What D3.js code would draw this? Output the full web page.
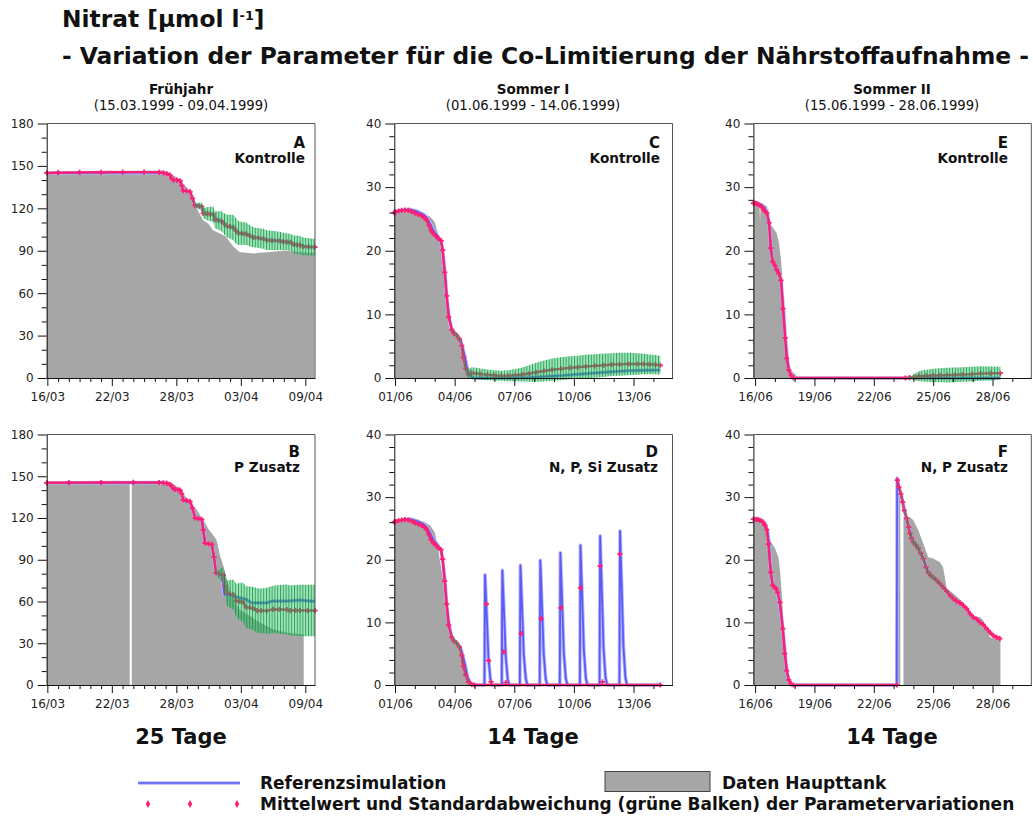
<!DOCTYPE html>
<html>
<head>
<meta charset="utf-8">
<script src="https://cdn.jsdelivr.net/npm/d3@7"></script>
<style>
  body { margin: 0; background: #fff; }
  text { font-family: "DejaVu Sans", Verdana, sans-serif; }
</style>
</head>
<body>
<svg id="chart" width="1033" height="819"></svg>
<script>
// ---------------------------------------------------------------
// Tick labels and text
// ---------------------------------------------------------------
const ticksSpring  = ["16/03", "22/03", "28/03", "03/04", "09/04"];
const ticksSummer1 = ["01/06", "04/06", "07/06", "10/06", "13/06"];
const ticksSummer2 = ["16/06", "19/06", "22/06", "25/06", "28/06"];

const seasons   = ["Frühjahr", "Sommer I", "Sommer II"];
const periods   = ["(15.03.1999 - 09.04.1999)", "(01.06.1999 - 14.06.1999)", "(15.06.1999 - 28.06.1999)"];
const durations = ["25 Tage", "14 Tage", "14 Tage"];

// ---------------------------------------------------------------
// Series: [day since first labelled date, value] ;
// mean series: [day, mean, standard deviation]
// ---------------------------------------------------------------

// A – Frühjahr, Kontrolle
const dataA = [[-0.06,145],[2,145.5],[4,146],[6,146.5],[7,146.3],[9,146],[10.8,145.8],[11.4,145],[12.0,142],[12.5,138.5],[12.96,135],[13.4,128],[13.7,123],[14.1,117],[14.5,111.5],[15.0,109],[15.4,104.5],[16.1,102],[16.6,100],[17.0,96],[17.3,93],[17.9,89],[18.5,88.5],[19.2,88],[19.7,88.5],[20.4,89],[21.2,89.5],[22.0,90],[23.0,89.5],[23.5,89],[24.2,88.5],[24.85,88.5]];
const refA  = [[-0.06,145],[10.6,145.4],[11.1,144.6],[11.45,143],[11.6,140.5],[12.4,139.5],[12.55,134],[12.7,132.5],[13.3,131.5],[13.5,127],[13.7,122],[14.4,121],[14.55,117],[15.5,115.5],[15.65,112.5],[16.3,110.5],[16.7,107.5],[17.4,106],[17.8,102.5],[18.6,101.5],[19.1,99.5],[20.1,98.5],[20.4,97.5],[21.7,97],[21.95,96.3],[22.7,95.8],[22.9,94.5],[23.6,94],[23.85,93],[24.9,92.5]];
const meanA = [[-0.06,145,0],[1,145.2,0],[3,145.4,0],[5,145.5,0],[7,145.6,0],[9,145.6,0],[10.4,145.5,0],[10.8,145.1,0],[11.1,144.6,0],[11.4,143.5,0],[11.57,141,0],[11.75,140,0],[12.05,140,0],[12.34,139.5,0],[12.5,136,0],[12.65,132.5,0],[12.95,132.3,0],[13.27,131.8,0],[13.5,127,0.5],[13.74,122,1],[14.05,121.8,2],[14.36,121.3,3],[14.5,116.5,3.5],[14.8,116.2,4.5],[15.1,116,5],[15.44,115.8,5.5],[15.6,112,6],[15.9,111.5,6.5],[16.2,111,7],[16.45,109,7.5],[16.7,107.5,8],[17.0,107,8.5],[17.3,106.5,9],[17.55,104,9],[17.77,102.5,8.5],[18.1,102.3,8],[18.5,102,8],[18.85,100.5,7.5],[19.2,99.5,7],[19.65,99,7],[20.1,98.5,7],[20.4,97.5,7],[20.9,97.3,6.8],[21.6,97,6.5],[21.95,96.5,6.2],[22.3,96.2,6],[22.6,96,6],[22.9,94.5,6.3],[23.2,94.2,6.5],[23.5,94,6.5],[23.8,93,6.3],[24.3,92.8,6],[24.9,92.5,6]];

// B – Frühjahr, P Zusatz (null = gap in the tank record)
const dataB = [[-0.06,145.5],[2,145.8],[4,146],[5.5,146.5],[6.5,146.8],[7.66,146],[7.68,null],[7.84,null],[7.86,146],[9,146],[10,146],[11.1,146.3],[11.4,146],[12.0,143],[12.65,137.5],[13.3,131],[13.9,126],[14.2,122],[14.5,119],[15.0,112],[15.4,108],[15.75,104],[16.06,93],[16.4,85],[16.7,76],[17.0,68],[17.3,62],[17.9,54],[18.85,49.5],[19.8,44.7],[21.0,40],[22.3,37.6],[23.7,36.4],[23.85,36.4]];
const refB  = [[-0.06,145.3],[10.6,145.5],[11.1,145],[11.45,143.5],[11.6,141],[11.9,140.2],[12.4,139.8],[12.55,135],[12.7,132.5],[13.3,131.5],[13.5,127],[13.74,120],[14.4,118.8],[14.55,111],[14.67,102],[15.35,100.5],[15.5,92],[15.68,80],[16.3,78.5],[16.45,65],[17.3,64],[18.2,62],[18.5,61.5],[19.0,59],[20.4,59],[20.9,60.3],[22.3,60.3],[23.5,61],[24.9,60]];
const meanB = [[-0.06,145.3,0],[2,145.4,0],[5,145.5,0],[8,145.6,0],[10.4,145.5,0],[10.8,145.2,0],[11.1,145,0],[11.4,144,0],[11.57,143,0],[11.75,141,0],[11.9,140.5,0],[12.15,140.2,0],[12.34,140,0],[12.5,137.5,0],[12.65,133,0],[12.95,132.5,0],[13.27,132,0],[13.5,127,0],[13.74,120,0],[14.05,119.6,0],[14.36,119,0],[14.5,111.5,0],[14.67,102,0],[15.0,101.5,0],[15.3,101,0],[15.5,92,0.5],[15.7,80.5,1],[16.0,79.6,3.5],[16.37,79,6],[16.53,71,8],[16.7,66,9],[17.0,65.5,10],[17.3,65,10.8],[17.6,60.5,12],[17.9,60,13.5],[18.2,59.5,14],[18.5,56,15],[18.85,55.5,15.3],[19.16,55,15.5],[19.5,53.5,16],[19.9,53.4,16],[20.4,53.3,16.5],[21.0,54.3,17],[21.6,54.3,17.5],[22.3,54.2,18],[22.6,53.5,18],[23.1,53.6,18.3],[23.5,53.6,18.5],[24.2,53.5,18.5],[24.9,53.5,18.5]];

// C – Sommer I, Kontrolle
const dataC = [[-0.035,26],[0.4,26.4],[0.75,26.5],[1.1,26.1],[1.43,25.8],[1.76,25.4],[2.0,24.5],[2.15,22.8],[2.3,21.6],[2.4,20.8],[2.5,17],[2.6,11],[2.72,7.8],[2.9,7.2],[3.1,6.5],[3.25,5.5],[3.4,3.5],[3.5,1.8],[3.6,0.7],[3.75,0.1],[3.9,0],[13.35,0]];
const refC  = [[-0.035,26],[0.4,26.4],[0.75,26.5],[1.1,26.2],[1.43,25.7],[1.6,25.2],[1.76,24.3],[1.93,23.2],[2.18,22.2],[2.32,21.4],[2.43,19],[2.52,16.4],[2.6,12.7],[2.72,9.6],[2.85,7.7],[3.1,6.7],[3.3,5.9],[3.4,4.8],[3.52,3.3],[3.64,1.4],[3.77,0.4],[3.94,0],[5.5,0],[6.8,0.1],[7.7,0.25],[8.5,0.4],[9.3,0.6],[10.15,0.8],[11.0,1.0],[11.8,1.15],[12.6,1.22],[13.35,1.25]];
const meanC = [[-0.035,26,0],[0.03,26.1,0],[0.18,26.25,0],[0.34,26.35,0],[0.5,26.4,0],[0.67,26.35,0],[0.84,26.15,0],[1.0,25.9,0],[1.17,25.7,0],[1.34,25.5,0],[1.47,25.2,0],[1.59,24.8,0],[1.71,24.0,0],[1.81,23.2,0],[1.93,22.7,0],[2.06,22.3,0],[2.18,21.9,0],[2.32,21.6,0],[2.40,20.1,0],[2.50,16.6,0],[2.60,12.9,0],[2.70,9.55,0],[2.85,7.6,0.1],[2.97,7.0,0.2],[3.10,6.7,0.3],[3.24,6.1,0.3],[3.36,5.1,0.4],[3.44,3.25,0.5],[3.56,1.5,0.7],[3.69,0.63,0.8],[3.86,0.8,0.9],[4.1,0.7,0.9],[4.3,0.6,0.9],[4.65,0.5,0.85],[5.0,0.4,0.8],[5.35,0.35,0.8],[5.7,0.35,0.85],[6.05,0.45,0.95],[6.4,0.55,1.1],[6.75,0.7,1.3],[7.1,0.9,1.5],[7.5,1.1,1.65],[7.9,1.3,1.75],[8.35,1.45,1.8],[8.8,1.6,1.8],[9.2,1.7,1.8],[9.6,1.8,1.85],[10.05,1.9,1.85],[10.5,2.0,1.85],[10.9,2.1,1.8],[11.3,2.15,1.8],[11.75,2.2,1.75],[12.2,2.2,1.7],[12.5,2.2,1.6],[12.8,2.15,1.55],[13.1,2.1,1.5],[13.35,2.0,1.45]];

// D – Sommer I, N, P, Si Zusatz (daily nutrient pulses)
const dataD = [[-0.035,26],[0.75,26.45],[1.43,26.1],[1.76,25.5],[2.0,24.4],[2.13,22.6],[2.26,19.9],[2.43,16.7],[2.6,10.8],[2.77,7.6],[3.0,6.6],[3.2,6.3],[3.32,5.0],[3.44,2.8],[3.6,1.0],[3.77,0.2],[3.9,0],[13.35,0]];
const refD  = [[-0.035,26],[0.4,26.4],[0.75,26.5],[1.1,26.2],[1.43,25.7],[1.6,25.2],[1.76,24.3],[1.93,23.2],[2.18,22.2],[2.32,21.4],[2.43,19],[2.52,16.4],[2.6,12.7],[2.72,9.6],[2.85,7.7],[3.1,6.7],[3.3,5.9],[3.4,4.8],[3.52,3.3],[3.64,1.4],[3.77,0.4],[3.94,0],
  [4.50,0],[4.53,17.6],[4.60,12.3],[4.70,4.4],[4.80,0.9],[4.88,0],
  [5.37,0],[5.40,18.3],[5.47,12.8],[5.57,4.6],[5.67,0.9],[5.75,0],
  [6.28,0],[6.31,19.1],[6.38,13.4],[6.48,4.8],[6.58,1.0],[6.66,0],
  [7.28,0],[7.31,19.9],[7.38,13.9],[7.48,5.0],[7.58,1.0],[7.66,0],
  [8.29,0],[8.32,21.1],[8.39,14.8],[8.49,5.3],[8.59,1.1],[8.67,0],
  [9.30,0],[9.33,22.3],[9.40,15.6],[9.50,5.6],[9.60,1.1],[9.68,0],
  [10.29,0],[10.32,23.8],[10.39,16.7],[10.49,6.0],[10.59,1.2],[10.67,0],
  [11.29,0],[11.32,24.6],[11.39,17.2],[11.49,6.2],[11.59,1.2],[11.67,0],[13.35,0]];
const meanD = [[-0.035,26,0],[0.03,26.1,0],[0.18,26.25,0],[0.34,26.35,0],[0.5,26.4,0],[0.67,26.35,0],[0.84,26.15,0],[1.0,25.9,0],[1.17,25.7,0],[1.34,25.5,0],[1.47,25.2,0],[1.59,24.8,0],[1.71,24.0,0],[1.81,23.2,0],[1.93,22.7,0],[2.06,22.3,0],[2.18,21.9,0],[2.32,21.6,0],[2.40,20.1,0],[2.50,16.6,0],[2.60,12.9,0],[2.70,9.55,0],[2.85,7.6,0.2],[2.97,7.0,0.3],[3.10,6.7,0.35],[3.24,6.1,0.35],[3.36,4.7,0.35],[3.44,3.0,0.3],[3.56,1.6,0.2],[3.69,0.5,0.1],[3.86,0.1,0],[4.0,0,0],[13.35,0,0]];
const meanDPulses = [[4.60,12.9],[4.71,3.9],[4.83,0.5],[5.47,5.3],[5.57,0.4],[6.34,8.2],[7.35,10.6],[8.34,12.3],[9.33,15.5],[10.32,19.0],[10.44,0.5],[11.31,20.9]];

// E – Sommer II, Kontrolle
const dataE = [[-0.085,27.5],[0.1,27.4],[0.22,27.3],[0.25,24.6],[0.28,27.3],[0.5,27.2],[0.6,27],[0.62,25.5],[0.64,27],[0.67,26.4],[0.76,24.3],[0.93,23.5],[1.09,22.8],[1.21,21.2],[1.31,18.6],[1.4,14.9],[1.46,10.8],[1.57,5.5],[1.68,1.9],[1.85,1.1],[2.02,0.6],[2.19,0],[12.4,0]];
const refE  = [[-0.085,27.5],[0.15,27.4],[0.34,27.2],[0.5,26.7],[0.62,25.8],[0.71,24.3],[0.79,20.7],[0.89,18.3],[1.01,17.5],[1.13,17.0],[1.21,16.5],[1.31,15.4],[1.43,10.9],[1.53,6.3],[1.62,3.1],[1.72,1.25],[1.83,0.4],[1.95,0],[12.4,0]];
const meanE = [[-0.085,27.5,0],[0,27.5,0],[0.08,27.4,0],[0.17,27.3,0],[0.25,27.1,0],[0.34,26.85,0],[0.42,26.5,0],[0.5,26.2,0],[0.59,25.9,0],[0.71,24.4,0],[0.79,20.4,0],[0.89,18.3,0],[1.01,17.65,0],[1.09,17.0,0],[1.2,16.4,0],[1.31,15.35,0],[1.41,10.9,0],[1.52,6.3,0],[1.6,3.1,0],[1.7,1.25,0],[1.82,0.4,0],[1.94,0,0],[7.6,0,0],[7.8,0.05,0.1],[8.05,0.15,0.5],[8.3,0.3,0.8],[8.65,0.35,0.95],[9.0,0.4,1.05],[9.35,0.42,1.1],[9.7,0.45,1.15],[10.1,0.5,1.15],[10.5,0.55,1.15],[10.95,0.6,1.15],[11.4,0.7,1.15],[11.9,0.72,1.1],[12.4,0.75,1.0]];

// F – Sommer II, N, P Zusatz (single addition on 23/06)
const dataF = [[-0.085,26.5],[0.42,26.4],[0.57,25.8],[0.6,21],[0.63,24.5],[0.76,23.1],[1.01,21.8],[1.18,20.4],[1.26,18.3],[1.35,14.5],[1.43,10.3],[1.57,5.0],[1.68,1.8],[1.85,0.4],[2.02,0],[7.18,0],[7.19,32.5],[7.34,30.5],[7.35,null],[7.48,null],[7.5,26.8],[7.83,26.8],[8.0,26.3],[8.25,24.7],[8.5,22.6],[8.75,20.4],[9.0,20.2],[9.34,19.6],[9.5,18.8],[9.6,17],[9.68,15.4],[10.02,14.6],[10.52,13.2],[10.86,11.7],[11.03,11.0],[11.36,10.8],[11.53,10.3],[11.7,9.2],[11.87,7.6],[12.21,7.4],[12.4,7.4]];
const refF  = [[-0.085,26.5],[0.34,26.3],[0.51,25.7],[0.62,24.7],[0.71,22.6],[0.79,18.0],[0.89,15.9],[1.01,15.4],[1.13,14.8],[1.23,13.2],[1.4,9.0],[1.52,5.0],[1.6,2.3],[1.7,0.8],[1.82,0.16],[1.94,0],[7.16,0],[7.18,33.0],[7.27,31.6],[7.37,30.5],[7.46,29.2],[7.54,27.9],[7.66,26.6],[7.76,25.2],[7.83,24.2],[7.91,23.4],[8.0,22.8],[8.13,22.3],[8.25,21.8],[8.37,21.0],[8.5,20.2],[8.64,18.8],[8.75,18.0],[8.87,17.5],[9.0,17.2],[9.18,16.7],[9.34,16.2],[9.51,15.6],[9.68,15.0],[9.85,14.3],[10.02,13.8],[10.18,13.4],[10.35,13.1],[10.52,12.7],[10.69,12.2],[10.86,11.4],[11.03,10.8],[11.2,10.5],[11.36,10.0],[11.53,9.65],[11.7,9.0],[11.87,8.4],[12.04,7.9],[12.21,7.6],[12.37,7.4]];
const meanF = [[-0.085,26.5,0],[0.05,26.45,0],[0.15,26.4,0],[0.25,26.3,0],[0.39,26.0,0],[0.5,25.5,0],[0.59,24.8,0],[0.67,22.5,0],[0.79,18.0,0],[0.89,15.9,0],[0.98,15.6,0],[1.06,15.4,0],[1.14,14.8,0],[1.26,13.2,0],[1.4,9.0,0],[1.5,5.0,0],[1.6,2.3,0],[1.7,0.8,0],[1.82,0.16,0],[1.94,0,0],[7.17,0,0],[7.18,null,0],
  [7.19,32.7,0],[7.27,31.6,0.1],[7.37,30.5,0.2],[7.46,29.2,0.3],[7.54,27.9,0.4],[7.66,26.6,0.4],[7.76,25.2,0.4],[7.83,24.2,0.4],[7.91,23.4,0.45],[8.0,22.8,0.45],[8.13,22.3,0.45],[8.25,21.8,0.45],[8.37,21.0,0.45],[8.5,20.2,0.45],[8.64,18.8,0.4],[8.75,18.0,0.4],[8.87,17.5,0.35],[9.0,17.2,0.3],[9.18,16.7,0.3],[9.34,16.2,0.25],[9.51,15.6,0.2],[9.68,15.0,0.15],[9.85,14.3,0.1],[10.02,13.8,0.05],[10.18,13.4,0],[10.35,13.1,0],[10.52,12.7,0],[10.69,12.2,0],[10.86,11.4,0],[11.03,10.8,0],[11.2,10.5,0],[11.36,10.0,0],[11.53,9.65,0],[11.7,9.0,0],[11.87,8.4,0],[12.04,7.9,0],[12.21,7.6,0],[12.37,7.4,0]];

// ---------------------------------------------------------------
// Layout
// ---------------------------------------------------------------
const W = 1033, H = 819;
const parseDay = d3.utcParse("%d/%m/%Y");
const cols = [
  { x0: 46.7,  x1: 315,    start: "16/03", dom: [-0.06, 24.9],  ticks: ticksSpring,  yMax: 180, yStep: 30, yMinor: 10, cx: 181 },
  { x0: 394.3, x1: 672.5,  start: "01/06", dom: [-0.035, 13.96], ticks: ticksSummer1, yMax: 40,  yStep: 10, yMinor: 2,  cx: 533 },
  { x0: 753.4, x1: 1031.3, start: "16/06", dom: [-0.085, 13.96], ticks: ticksSummer2, yMax: 40,  yStep: 10, yMinor: 2,  cx: 892 }
];
const rows = [
  { y0: 378, y1: 123.5, letterY: 148.3, nameY: 163.3 },
  { y0: 685, y1: 434.5, letterY: 456.8, nameY: 471.8 }
];
const panels = [
  { col: 0, row: 0, letter: "A", name: "Kontrolle",       lx: 305,  data: dataA, ref: refA, mean: meanA },
  { col: 1, row: 0, letter: "C", name: "Kontrolle",       lx: 660,  data: dataC, ref: refC, mean: meanC },
  { col: 2, row: 0, letter: "E", name: "Kontrolle",       lx: 1008, data: dataE, ref: refE, mean: meanE },
  { col: 0, row: 1, letter: "B", name: "P Zusatz",        lx: 300,  data: dataB, ref: refB, mean: meanB },
  { col: 1, row: 1, letter: "D", name: "N, P, Si Zusatz", lx: 658,  data: dataD, ref: refD, mean: meanD, pulses: meanDPulses },
  { col: 2, row: 1, letter: "F", name: "N, P Zusatz",     lx: 1008, data: dataF, ref: refF, mean: meanF }
];

const COLORS = {
  tank: "#a6a6a6",
  ref: "#5c5cf4",
  refHalo: "#b4b4ff",
  mean: "#ff1f72",
  sdDark: "#009a3c",
  sdLight: "#3cc06a",
  axis: "#111",
  frame: "#555",
  text: "#111"
};

const svg = d3.select("#chart");
svg.append("rect").attr("width", W).attr("height", H).attr("fill", "#fff");

// striped fill used for the standard-deviation bars
const defs = svg.append("defs");
const pat = defs.append("pattern").attr("id", "sdBars")
  .attr("patternUnits", "userSpaceOnUse").attr("width", 2.8).attr("height", 4);
pat.append("rect").attr("x", 0).attr("width", 1.1).attr("height", 4)
  .attr("fill", COLORS.sdDark).attr("fill-opacity", 0.85);
pat.append("rect").attr("x", 1.1).attr("width", 1.7).attr("height", 4)
  .attr("fill", COLORS.sdLight).attr("fill-opacity", 0.45);

const at = (start, d) => new Date(start.getTime() + d * 864e5);

function styleAxis(g, size) {
  g.attr("font-family", null).attr("font-size", null);
  g.selectAll("line,path").attr("stroke", COLORS.axis);
  g.selectAll("text").attr("font-size", size).attr("fill", "#222")
    .style("font-family", "'DejaVu Sans', Verdana, sans-serif");
}

function drawPanel(p) {
  const c = cols[p.col], r = rows[p.row];
  const start = parseDay(c.start + "/1999");
  const x = d3.scaleUtc().domain([at(start, c.dom[0]), at(start, c.dom[1])]).range([c.x0, c.x1]);
  const y = d3.scaleLinear().domain([0, c.yMax]).range([r.y0, r.y1]);
  const X = d => x(at(start, d[0]));
  const g = svg.append("g").attr("class", "panel-" + p.letter);

  // measured tank concentrations
  g.append("path").datum(p.data)
    .attr("d", d3.area().defined(d => d[1] != null).x(X).y0(y(0)).y1(d => y(d[1])))
    .attr("fill", COLORS.tank);

  // reference simulation
  const refLine = d3.line().x(X).y(d => y(d[1]));
  g.append("path").datum(p.ref).attr("d", refLine).attr("fill", "none")
    .attr("stroke", COLORS.refHalo).attr("stroke-width", 3.6).attr("stroke-linejoin", "round");
  g.append("path").datum(p.ref).attr("d", refLine).attr("fill", "none")
    .attr("stroke", COLORS.ref).attr("stroke-width", 1.8).attr("stroke-linejoin", "round");

  // mean of the parameter variations
  const meanPts = p.mean.filter(d => d[1] != null);
  g.append("path").datum(p.mean)
    .attr("d", d3.line().defined(d => d[1] != null).x(X).y(d => y(d[1])))
    .attr("fill", "none").attr("stroke", COLORS.mean).attr("stroke-width", 2.4);
  const marks = meanPts.concat(p.pulses || []);
  g.selectAll("path.mk").data(marks).join("path").attr("class", "mk")
    .attr("transform", d => `translate(${X(d)},${y(d[1])})`)
    .attr("d", d3.symbol(d3.symbolCross, 15))
    .attr("fill", COLORS.mean);

  // standard deviation bars (drawn over the mean)
  g.append("path").datum(meanPts)
    .attr("d", d3.area().x(X).y0(d => y(d[1] - d[2])).y1(d => y(d[1] + d[2])))
    .attr("fill", "url(#sdBars)");

  // frame (top and right)
  g.append("path").attr("d", `M${c.x0},${r.y1}H${c.x1}V${r.y0}`)
    .attr("fill", "none").attr("stroke", COLORS.frame).attr("stroke-width", 1);

  // y axis
  const yMajor = d3.range(0, c.yMax + 0.001, c.yStep);
  const yMinor = d3.range(0, c.yMax + 0.001, c.yMinor).filter(v => v % c.yStep !== 0);
  g.append("g").attr("transform", `translate(${c.x0},0)`)
    .call(d3.axisLeft(y).tickValues(yMinor).tickSize(5).tickFormat(""))
    .call(s => s.select(".domain").remove())
    .call(s => styleAxis(s, 12));
  g.append("g").attr("transform", `translate(${c.x0},0)`)
    .call(d3.axisLeft(y).tickValues(yMajor).tickSize(9).tickPadding(4).tickSizeOuter(0))
    .call(s => styleAxis(s, 12));

  // x axis
  const xMajor = c.ticks.map(t => parseDay(t + "/1999"));
  const [d0, d1] = x.domain();
  const xMinor = d3.utcDay.range(d3.utcDay.ceil(d0), d1)
    .filter(d => !xMajor.some(m => +m === +d));
  g.append("g").attr("transform", `translate(0,${r.y0})`)
    .call(d3.axisBottom(x).tickValues(xMinor).tickSize(4).tickFormat(""))
    .call(s => s.select(".domain").remove())
    .call(s => styleAxis(s, 12));
  g.append("g").attr("transform", `translate(0,${r.y0})`)
    .call(d3.axisBottom(x).tickValues(xMajor).tickSize(8).tickPadding(6).tickSizeOuter(0)
      .tickFormat(d3.utcFormat("%d/%m")))
    .call(s => styleAxis(s, 12));

  // panel caption
  g.append("text").attr("x", p.lx).attr("y", r.letterY).attr("text-anchor", "end")
    .attr("font-weight", "bold").attr("font-size", 15).attr("fill", COLORS.text).text(p.letter);
  g.append("text").attr("x", p.lx).attr("y", r.nameY).attr("text-anchor", "end")
    .attr("font-weight", "bold").attr("font-size", 13.6).attr("fill", COLORS.text).text(p.name);
}

panels.forEach(drawPanel);

// ---------------------------------------------------------------
// Titles
// ---------------------------------------------------------------
function fitWidth(sel, w) {
  const len = sel.node().getComputedTextLength();
  const fs = parseFloat(sel.attr("font-size"));
  sel.attr("font-size", (fs * w / len).toFixed(2));
  return fs * w / len;
}

const sub = svg.append("text").attr("x", 62).attr("y", 64)
  .attr("font-weight", "bold").attr("font-size", 20).attr("fill", COLORS.text)
  .text("- Variation der Parameter für die Co-Limitierung der Nährstoffaufnahme -");
const titleSize = fitWidth(sub, 967);

const title = svg.append("text").attr("x", 62).attr("y", 27)
  .attr("font-weight", "bold").attr("font-size", titleSize.toFixed(2)).attr("fill", COLORS.text);
title.append("tspan").text("Nitrat [µmol l");
title.append("tspan").attr("font-size", (titleSize * 0.55).toFixed(2)).attr("dy", -7).text("-1");
title.append("tspan").attr("dy", 7).text("]");

cols.forEach((c, i) => {
  svg.append("text").attr("x", c.cx).attr("y", 94).attr("text-anchor", "middle")
    .attr("font-weight", "bold").attr("font-size", 13.5).attr("fill", COLORS.text).text(seasons[i]);
  svg.append("text").attr("x", c.cx).attr("y", 109.5).attr("text-anchor", "middle")
    .attr("font-size", 13.2).attr("fill", COLORS.text).text(periods[i]);
  svg.append("text").attr("x", c.cx).attr("y", 744).attr("text-anchor", "middle")
    .attr("font-weight", "bold").attr("font-size", 21).attr("fill", COLORS.text).text(durations[i]);
});

// ---------------------------------------------------------------
// Legend
// ---------------------------------------------------------------
const lg = svg.append("g");
lg.append("line").attr("x1", 138).attr("x2", 240).attr("y1", 783).attr("y2", 783)
  .attr("stroke", COLORS.refHalo).attr("stroke-width", 3.4);
lg.append("line").attr("x1", 138).attr("x2", 240).attr("y1", 783).attr("y2", 783)
  .attr("stroke", COLORS.ref).attr("stroke-width", 1.6);
lg.append("rect").attr("x", 605).attr("y", 771.5).attr("width", 105).attr("height", 20)
  .attr("fill", COLORS.tank).attr("stroke", "#444").attr("stroke-width", 1);
[148, 190, 237].forEach(px => {
  lg.append("path").attr("transform", `translate(${px},804)`)
    .attr("d", d3.symbol(d3.symbolDiamond, 18)).attr("fill", COLORS.mean);
});
const meanLabel = lg.append("text").attr("x", 260).attr("y", 810).attr("font-weight", "bold")
  .attr("font-size", 14).attr("fill", COLORS.text)
  .text("Mittelwert und Standardabweichung (grüne Balken) der Parametervariationen");
const legendSize = Math.min(fitWidth(meanLabel, 766), 17);
meanLabel.attr("font-size", legendSize.toFixed(2));
lg.append("text").attr("x", 260).attr("y", 789).attr("font-weight", "bold")
  .attr("font-size", legendSize.toFixed(2)).attr("fill", COLORS.text).text("Referenzsimulation");
lg.append("text").attr("x", 722).attr("y", 789).attr("font-weight", "bold")
  .attr("font-size", legendSize.toFixed(2)).attr("fill", COLORS.text).text("Daten Haupttank");
</script>
</body>
</html>
